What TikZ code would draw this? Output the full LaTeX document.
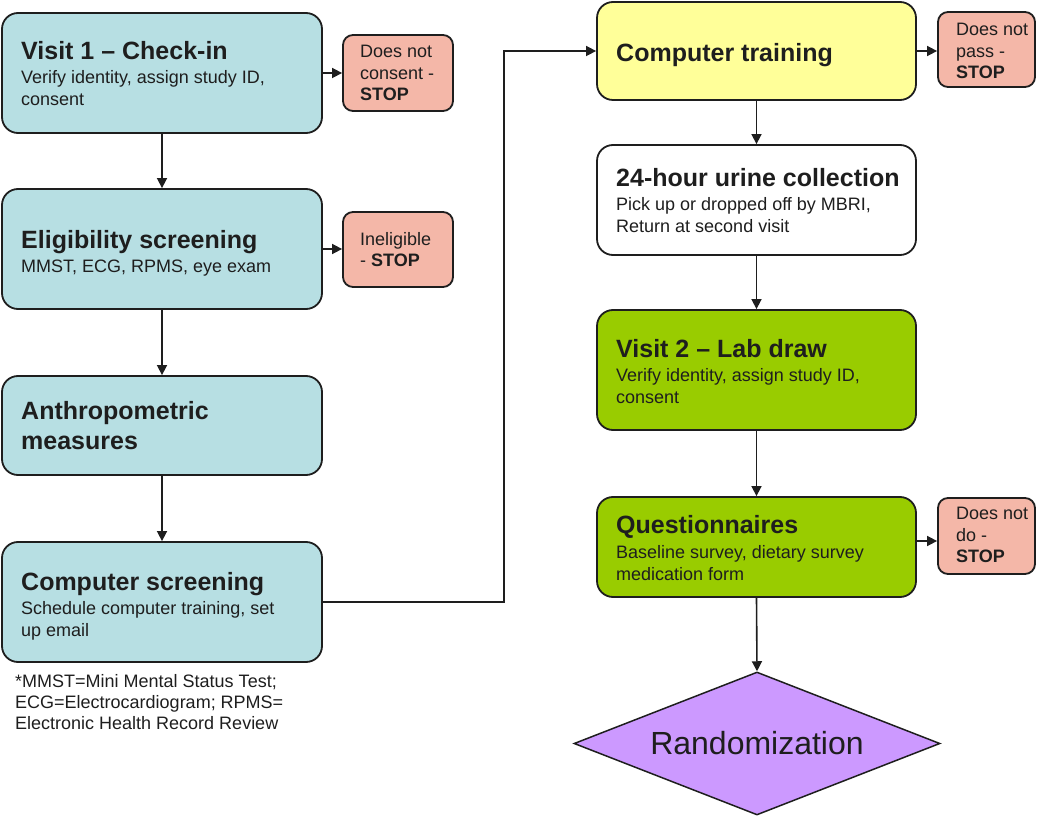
\documentclass[tikz,border=0pt]{standalone}
\usepackage{fontspec}
\setmainfont{Liberation Sans}
\usetikzlibrary{shapes.geometric,arrows.meta}
\definecolor{tealc}{HTML}{B7DFE3}
\definecolor{stopc}{HTML}{F4B7A8}
\definecolor{yelc}{HTML}{FFFF99}
\definecolor{grnc}{HTML}{99CC00}
\definecolor{purpc}{HTML}{CC99FF}
\definecolor{ink}{HTML}{1E1E1E}
\newcommand\ttlf{\fontsize{25}{25}\selectfont\bfseries}
\newcommand\subf{\fontsize{18}{22}\selectfont}
\newcommand\stopf{\fontsize{18}{21.5}\selectfont}
\begin{document}
\begin{tikzpicture}[x=1pt,y=-1pt,
 bigbox/.style={draw=ink, line width=1.8pt, rounded corners=16pt, minimum width=320pt, inner sep=0pt},
 stopbox/.style={draw=ink, line width=1.8pt, rounded corners=10pt, fill=stopc, inner sep=0pt},
 txt/.style={anchor=west, align=left, inner sep=0pt, font=\subf, text=ink},
 stoptxt/.style={anchor=west, align=left, inner sep=0pt, font=\stopf, text=ink},
 arr/.style={draw=ink, line width=1.6pt, -{Triangle[length=10pt,width=10pt]}}
]
\useasboundingbox (0,0) rectangle (1050,818);

% left column
\node[bigbox, fill=tealc, minimum height=120pt] (v1) at (162,73) {};
\node[txt] (v1t) at (21,74) {{\ttlf Visit 1 – Check-in}\\[2pt]Verify identity, assign study ID,\\consent};
\node[stopbox, minimum width=110pt, minimum height=76pt] (s1) at (398,73) {};
\node[stoptxt] (s1t) at (360,73) {Does not\\consent -\\\textbf{STOP}};

\node[bigbox, fill=tealc, minimum height=120pt] (el) at (162,249) {};
\node[txt] (elt) at (21,253) {{\ttlf Eligibility screening}\\[2pt]MMST, ECG, RPMS, eye exam};
\node[stopbox, minimum width=110pt, minimum height=75pt] (s2) at (398,249.5) {};
\node[stoptxt] (s2t) at (360,249.5) {Ineligible\\- \textbf{STOP}};

\node[bigbox, fill=tealc, minimum height=99pt] (an) at (162,425.5) {};
\node[txt] (ant) at (21,426) {{\ttlf Anthropometric}\\[8pt]{\ttlf measures}};

\node[bigbox, fill=tealc, minimum height=120pt] (cs) at (162,602) {};
\node[txt] (cst) at (21,606) {{\ttlf Computer screening}\\[2pt]Schedule computer training, set\\up email};

\node[stoptxt, font=\fontsize{18}{21}\selectfont] (fn) at (15,702.5) {*MMST=Mini Mental Status Test;\\ECG=Electrocardiogram; RPMS=\\Electronic Health Record Review};

% right column
\node[bigbox, fill=yelc, minimum width=319pt, minimum height=98pt] (ct) at (756.5,51) {};
\node[txt] (ctt) at (616,55) {{\ttlf Computer training}};
\node[stopbox, minimum width=97pt, minimum height=75pt] (s3) at (986.5,49.5) {};
\node[stoptxt] (s3t) at (956,51) {Does not\\pass -\\\textbf{STOP}};

\node[bigbox, fill=white, minimum width=319pt, minimum height=110pt] (ur) at (756.5,200) {};
\node[txt] (urt) at (616,201) {{\ttlf 24-hour urine collection}\\[2pt]Pick up or dropped off by MBRI,\\Return at second visit};

\node[bigbox, fill=grnc, minimum width=319pt, minimum height=120pt] (v2) at (756.5,370) {};
\node[txt] (v2t) at (616,372) {{\ttlf Visit 2 – Lab draw}\\[2pt]Verify identity, assign study ID,\\consent};

\node[bigbox, fill=grnc, minimum width=319pt, minimum height=100pt] (q) at (756.5,547) {};
\node[txt] (qt) at (616,548) {{\ttlf Questionnaires}\\[3pt]Baseline survey, dietary survey\\medication form};
\node[stopbox, minimum width=97pt, minimum height=76pt] (s4) at (986.5,536) {};
\node[stoptxt] (s4t) at (956,535) {Does not\\do -\\\textbf{STOP}};

\node[diamond, draw=ink, line width=1.5pt, fill=purpc, minimum width=366pt, minimum height=143pt, shape aspect=2.56, inner sep=0pt, font=\fontsize{32}{32}\selectfont, text=ink] (rd) at (757,743.5) {Randomization};

% connectors
\draw[arr] (v1.east) -- (s1.west);
\draw[arr] (v1.south) -- (el.north);
\draw[arr] (el.east) -- (el.east -| s2.west);
\draw[arr] (el.south) -- (an.north);
\draw[arr] (an.south) -- (cs.north);
\draw[arr] (cs.east) -- ++(181,0) |- (ct.west);
\draw[arr] (ct.east) -- (ct.east -| s3.west);
\draw[arr] (ct.south) -- (ur.north);
\draw[arr] (ur.south) -- (v2.north);
\draw[arr] (v2.south) -- (q.north);
\draw[arr] ([yshift=6pt]q.east) -- ([yshift=6pt]q.east -| s4.west);
\draw[arr] (q.south) -- (rd.north);
\end{tikzpicture}
\end{document}
